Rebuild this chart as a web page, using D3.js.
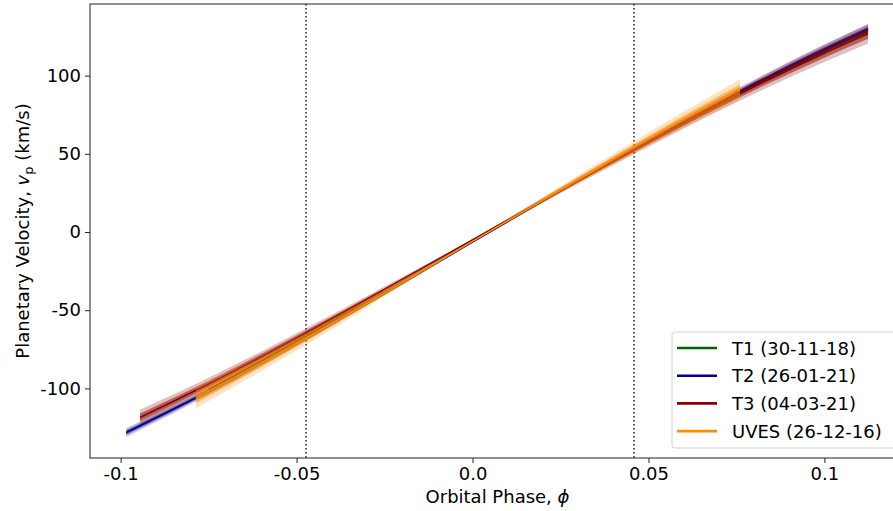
<!DOCTYPE html>
<html>
<head>
<meta charset="utf-8">
<script src="https://cdn.jsdelivr.net/npm/d3@7"></script>
<style>
  html, body { margin: 0; padding: 0; background: #fff; }
  svg { display: block; font-family: "DejaVu Sans", sans-serif; }
</style>
</head>
<body>
<svg id="chart" width="893" height="511"></svg>
<script>
// ---------------- data ----------------
const seriesNames = ["T1 (30-11-18)", "T2 (26-01-21)", "T3 (04-03-21)", "UVES (26-12-16)"];
const seriesColors = ["#006400", "#00008b", "#8b0000", "#ff8c00"];

// T1 (green)
const t1Phase = [-0.075, -0.05, -0.025, 0.0, 0.025, 0.05, 0.075, 0.1, 0.1124];
const t1Vel   = [-101.0, -70.0, -38.4, -6.0, 26.4, 58.0, 88.0, 115.7, 128.3];
const t1Err   = [0.8, 0.55, 0.3, 0.15, 0.3, 0.55, 0.8, 1.0, 1.1];
// T2 (blue)
const t2Phase = [-0.0984, -0.075, -0.05, -0.025, 0.0, 0.025, 0.05, 0.075, 0.1, 0.1124];
const t2Vel   = [-128.2, -101.8, -71.4, -39.3, -6.5, 26.3, 58.4, 88.8, 116.9, 129.8];
const t2Err   = [1.4, 1.1, 0.8, 0.45, 0.2, 0.45, 0.8, 1.1, 1.4, 1.6];
// T3 (red)
const t3Phase = [-0.0945, -0.075, -0.05, -0.025, 0.0, 0.025, 0.05, 0.075, 0.1, 0.1124];
const t3Vel   = [-118.6, -97.2, -67.7, -36.7, -5.0, 26.7, 57.7, 87.2, 114.3, 126.7];
const t3Err   = [2.5, 2.0, 1.5, 0.9, 0.3, 0.9, 1.5, 2.1, 2.8, 3.1];
// UVES (orange)
const uvPhase = [-0.0786, -0.06, -0.04, -0.02, 0.0, 0.02, 0.04, 0.06, 0.076];
const uvVel   = [-106.0, -83.7, -58.5, -32.4, -6.0, 20.4, 46.5, 71.7, 91.0];
const uvErr   = [3.3, 2.6, 1.8, 1.0, 0.3, 1.0, 1.8, 2.6, 3.3];

const transitMarks = [-0.0473, 0.0459];
const xTicks = [-0.1, -0.05, 0.0, 0.05, 0.1];
const xTickLabels = ["-0.1", "-0.05", "0.0", "0.05", "0.1"];
const yTicks = [-100, -50, 0, 50, 100];
const yTickLabels = ["-100", "-50", "0", "50", "100"];

// ---------------- layout ----------------
const svg = d3.select("#chart");
const L = 90, R = 905, T = 4, B = 458;
const x = d3.scaleLinear().domain([-0.1087, 0.1229]).range([L, R]);
const y = d3.scaleLinear().domain([-144.5, 145.8]).range([B, T]);

const defs = svg.append("defs");
defs.append("clipPath").attr("id", "plotclip")
  .append("rect").attr("x", L).attr("y", T).attr("width", R - L).attr("height", B - T);

const plot = svg.append("g").attr("clip-path", "url(#plotclip)");

// vertical dotted lines
plot.selectAll("line.vmark").data(transitMarks).enter().append("line")
  .attr("class", "vmark")
  .attr("x1", d => x(d)).attr("x2", d => x(d))
  .attr("y1", T).attr("y2", B)
  .attr("stroke", "#333").attr("stroke-width", 1.6)
  .attr("stroke-dasharray", "1.6,2.4");

const seriesData = [
  [t1Phase, t1Vel, t1Err],
  [t2Phase, t2Vel, t2Err],
  [t3Phase, t3Vel, t3Err],
  [uvPhase, uvVel, uvErr]
].map(([p, v, e]) => p.map((ph, i) => ({ ph, v: v[i], e: e[i] })));

const curve = d3.curveMonotoneX;
seriesData.forEach((pts, si) => {
  const col = seriesColors[si];
  const g = plot.append("g");
  // outer (2 sigma) band
  g.append("path").datum(pts)
    .attr("d", d3.area().curve(curve).x(d => x(d.ph)).y0(d => y(d.v - 2 * d.e)).y1(d => y(d.v + 2 * d.e)))
    .attr("fill", col).attr("fill-opacity", 0.25).attr("stroke", "none");
  // inner (1 sigma) band
  g.append("path").datum(pts)
    .attr("d", d3.area().curve(curve).x(d => x(d.ph)).y0(d => y(d.v - d.e)).y1(d => y(d.v + d.e)))
    .attr("fill", col).attr("fill-opacity", 0.5).attr("stroke", "none");
  // central line
  g.append("path").datum(pts)
    .attr("d", d3.line().curve(curve).x(d => x(d.ph)).y(d => y(d.v)))
    .attr("fill", "none").attr("stroke", col).attr("stroke-width", 1.5);
});

// ---------------- axes ----------------
const xAxis = d3.axisBottom(x).tickValues(xTicks).tickFormat((d, i) => xTickLabels[i]).tickSize(5).tickPadding(4);
const yAxis = d3.axisLeft(y).tickValues(yTicks).tickFormat((d, i) => yTickLabels[i]).tickSize(5).tickPadding(4);

const gx = svg.append("g").attr("transform", `translate(0,${B})`).call(xAxis);
const gy = svg.append("g").attr("transform", `translate(${L},0)`).call(yAxis);
[gx, gy].forEach(g => {
  g.select(".domain").remove();
  g.selectAll(".tick line").attr("stroke", "#222").attr("stroke-width", 1);
  g.selectAll(".tick text").attr("fill", "#000").style("font-size", "18px")
    .style("font-family", "'DejaVu Sans', sans-serif");
});

// frame (spines)
svg.append("rect").attr("x", L).attr("y", T).attr("width", R - L).attr("height", B - T)
  .attr("fill", "none").attr("stroke", "#222").attr("stroke-width", 1);

// axis labels
const xl = svg.append("text").attr("x", (L + R) / 2).attr("y", 503)
  .attr("text-anchor", "middle").style("font-size", "18px").attr("fill", "#000");
xl.append("tspan").text("Orbital Phase, ");
xl.append("tspan").style("font-style", "italic").text("ϕ");

const yl = svg.append("text")
  .attr("transform", `translate(29,${(T + B) / 2}) rotate(-90)`)
  .attr("text-anchor", "middle").style("font-size", "18px").attr("fill", "#000");
yl.append("tspan").text("Planetary Velocity, ");
yl.append("tspan").style("font-style", "italic").text("v");
yl.append("tspan").attr("dy", 4).style("font-size", "13px").text("p");
yl.append("tspan").attr("dy", -4).text(" (km/s)");

// ---------------- legend ----------------
const lg = svg.append("g");
lg.append("rect").attr("x", 672).attr("y", 332).attr("width", 240).attr("height", 116)
  .attr("rx", 3).attr("fill", "#fff").attr("fill-opacity", 0.85)
  .attr("stroke", "#d0d0d0").attr("stroke-width", 1);
seriesNames.forEach((name, i) => {
  const cy = 348 + i * 27.7;
  lg.append("line").attr("x1", 677).attr("x2", 717).attr("y1", cy).attr("y2", cy)
    .attr("stroke", seriesColors[i]).attr("stroke-width", 2.6);
  lg.append("text").attr("x", 732).attr("y", cy + 6.5)
    .style("font-size", "18px").attr("fill", "#000").text(name);
});
</script>
</body>
</html>
